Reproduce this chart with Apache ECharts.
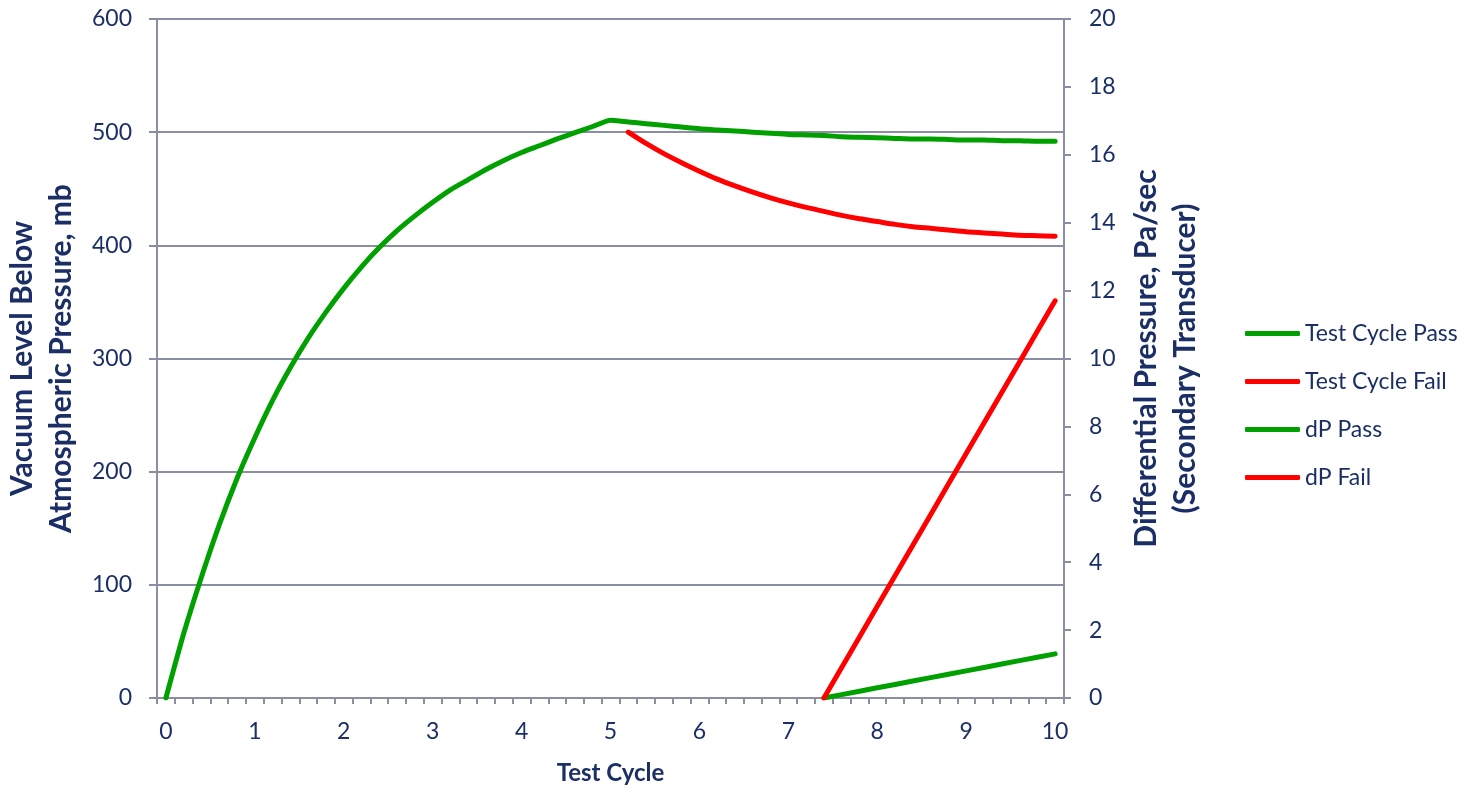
<!DOCTYPE html>
<html>
<head>
<meta charset="utf-8">
<title>Vacuum Test Cycle</title>
<script src="https://cdn.jsdelivr.net/npm/echarts@6/dist/echarts.min.js"></script>
<style>
  html, body { margin: 0; padding: 0; background: #ffffff; }
  #chart { width: 1472px; height: 789px; }
</style>
</head>
<body>
<div id="chart"></div>
<script>
// Test cycle steps (0.2 apart); only whole numbers get a label
const cycles = [
  0, 0.2, 0.4, 0.6, 0.8, 1, 1.2, 1.4, 1.6, 1.8,
  2, 2.2, 2.4, 2.6, 2.8, 3, 3.2, 3.4, 3.6, 3.8,
  4, 4.2, 4.4, 4.6, 4.8, 5, 5.2, 5.4, 5.6, 5.8,
  6, 6.2, 6.4, 6.6, 6.8, 7, 7.2, 7.4, 7.6, 7.8,
  8, 8.2, 8.4, 8.6, 8.8, 9, 9.2, 9.4, 9.6, 9.8, 10
];

// Vacuum level below atmospheric pressure, mb (left axis)
const testCyclePass = [
  0, 57, 107, 153, 194, 230, 263, 292, 318, 341,
  362, 381, 398, 413, 426, 438, 449, 458, 467, 475,
  482, 488, 494, 499.5, 505, 510.5, 509, 507.5, 506, 504.5,
  503, 502, 501, 500, 499, 498, 497.5, 497, 496, 495.5,
  495, 494.5, 494, 494, 493.5, 493, 493, 492.5, 492.5, 492, 492
];

const testCycleFail = [
  null, null, null, null, null, null, null, null, null, null,
  null, null, null, null, null, null, null, null, null, null,
  null, null, null, null, null, null, 500, 490, 481, 473,
  465.5, 458.5, 452.5, 447, 442, 437.5, 433.5, 430, 426.5, 423.5,
  421, 418.5, 416.5, 415, 413.5, 412, 411, 410, 409, 408.5, 408
];

// Differential pressure, Pa/sec (right axis)
const dpPass = [
  null, null, null, null, null, null, null, null, null, null,
  null, null, null, null, null, null, null, null, null, null,
  null, null, null, null, null, null, null, null, null, null,
  null, null, null, null, null, null, null, 0, 0.1, 0.2,
  0.3, 0.4, 0.5, 0.6, 0.7, 0.8, 0.9, 1.0, 1.1, 1.2, 1.3
];

const dpFail = [
  null, null, null, null, null, null, null, null, null, null,
  null, null, null, null, null, null, null, null, null, null,
  null, null, null, null, null, null, null, null, null, null,
  null, null, null, null, null, null, null, 0, 0.9, 1.8,
  2.7, 3.6, 4.5, 5.4, 6.3, 7.2, 8.1, 9.0, 9.9, 10.8, 11.7
];

const TEXT = '#1b2f66';
const AXIS = '#8a8ea2';
const GREEN = '#00a000';
const RED = '#ff0000';
const FONT = 'Lato';

const chart = echarts.init(document.getElementById('chart'), null, { renderer: 'canvas' });

function lineSeries(name, data, color, yAxisIndex, smooth) {
  return {
    name: name,
    type: 'line',
    yAxisIndex: yAxisIndex,
    data: data,
    symbol: 'none',
    smooth: smooth,
    connectNulls: false,
    animation: false,
    lineStyle: { color: color, width: 5, cap: 'round', join: 'round' },
    itemStyle: { color: color }
  };
}

chart.setOption({
  backgroundColor: '#ffffff',
  animation: false,
  textStyle: { fontFamily: FONT, color: TEXT },
  grid: { left: 157, right: 408, top: 19, bottom: 91, outerBoundsMode: 'none', containLabel: false },
  legend: {
    orient: 'vertical',
    left: 1240,
    top: 317,
    itemWidth: 55,
    itemHeight: 5,
    itemGap: 25,
    icon: 'roundRect',
    textStyle: { fontFamily: FONT, fontSize: 23, color: TEXT },
    data: ['Test Cycle Pass', 'Test Cycle Fail', 'dP Pass', 'dP Fail']
  },
  xAxis: {
    type: 'category',
    data: cycles,
    boundaryGap: true,
    name: 'Test Cycle',
    nameLocation: 'middle',
    nameGap: 63,
    nameTextStyle: { fontFamily: FONT, fontSize: 24, fontWeight: 'bold', color: TEXT },
    axisLine: { lineStyle: { color: AXIS, width: 2 } },
    axisTick: { show: true, interval: 0, length: 6, lineStyle: { color: AXIS, width: 2 } },
    axisLabel: {
      interval: 4,
      margin: 22,
      fontFamily: FONT,
      fontSize: 23,
      color: TEXT,
      formatter: function (v) { return String(v); }
    },
    splitLine: { show: false }
  },
  yAxis: [
    {
      type: 'value',
      min: 0,
      max: 600,
      interval: 100,
      position: 'left',
      name: 'Vacuum Level Below\nAtmospheric Pressure, mb',
      nameLocation: 'middle',
      nameRotate: 90,
      nameGap: 67,
      nameTextStyle: { fontFamily: FONT, fontSize: 30, fontWeight: 'bold', color: TEXT, lineHeight: 39 },
      axisLine: { show: true, lineStyle: { color: AXIS, width: 2 } },
      axisTick: { show: true, length: 8, lineStyle: { color: AXIS, width: 2 } },
      axisLabel: { margin: 25, fontFamily: FONT, fontSize: 23, color: TEXT },
      splitLine: { show: true, lineStyle: { color: AXIS, width: 2 } }
    },
    {
      type: 'value',
      min: 0,
      max: 20,
      interval: 2,
      position: 'right',
      name: 'Differential Pressure, Pa/sec\n(Secondary Transducer)',
      nameLocation: 'middle',
      nameRotate: 90,
      nameGap: 57,
      nameTextStyle: { fontFamily: FONT, fontSize: 30, fontWeight: 'bold', color: TEXT, lineHeight: 39 },
      axisLine: { show: true, lineStyle: { color: AXIS, width: 2 } },
      axisTick: { show: true, length: 7, lineStyle: { color: AXIS, width: 2 } },
      axisLabel: { margin: 25, fontFamily: FONT, fontSize: 23, color: TEXT },
      splitLine: { show: false }
    }
  ],
  series: [
    lineSeries('Test Cycle Pass', testCyclePass, GREEN, 0, 0.2),
    lineSeries('Test Cycle Fail', testCycleFail, RED, 0, 0.3),
    lineSeries('dP Pass', dpPass, GREEN, 1, false),
    lineSeries('dP Fail', dpFail, RED, 1, false)
  ]
});
</script>
</body>
</html>
